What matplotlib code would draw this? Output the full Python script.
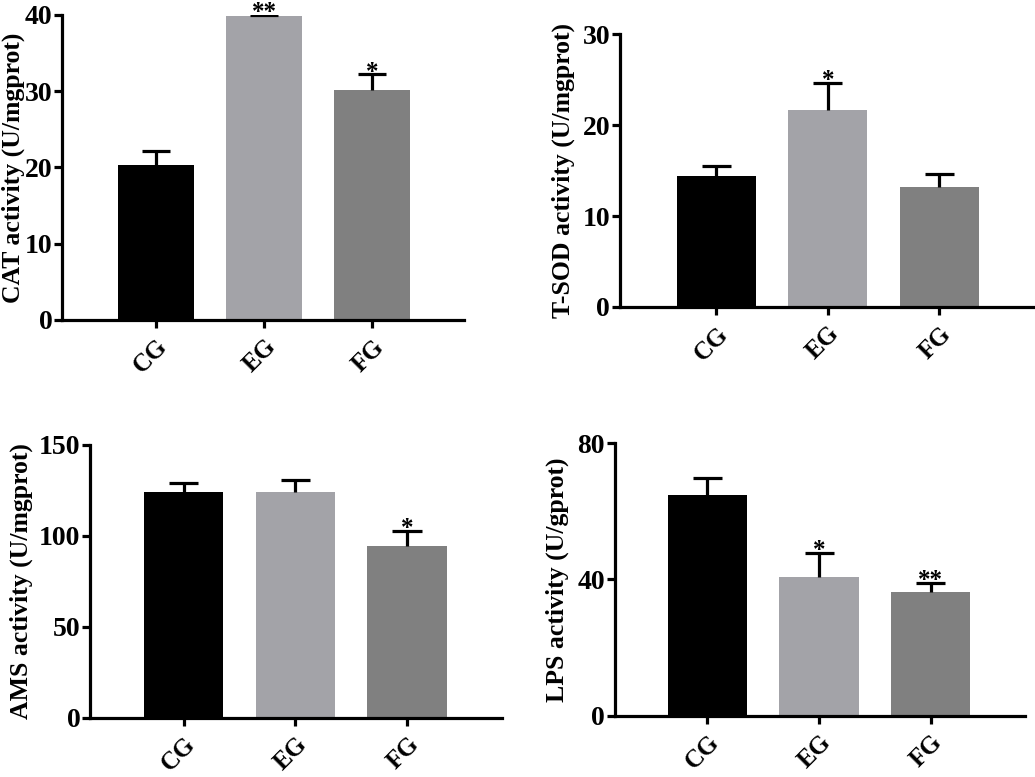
import numpy as np
import matplotlib
matplotlib.use("Agg")
import matplotlib.pyplot as plt

plt.rcParams['font.family'] = ['Liberation Serif', 'DejaVu Serif']
plt.rcParams['font.weight'] = 'bold'

groups = ["CG", "EG", "FG"]
bar_colors = ["#000000", "#a3a3a8", "#808080"]

cat_mean = [20.3, 39.9, 30.2]
cat_err = [1.9, 0.1, 2.0]
cat_sig = ["", "**", "*"]

sod_mean = [14.4, 21.6, 13.2]
sod_err = [1.1, 3.0, 1.4]
sod_sig = ["", "*", ""]

ams_mean = [124.3, 124.3, 94.4]
ams_err = [4.6, 6.4, 8.3]
ams_sig = ["", "", "*"]

lps_mean = [64.8, 40.7, 36.2]
lps_err = [5.1, 7.0, 2.9]
lps_sig = ["", "*", "**"]

# data, ylabel, yticks, axes rect, xlim, ylabel x (axes coords)
panels = [
    (cat_mean, cat_err, cat_sig, "CAT activity (U/mgprot)", [0, 10, 20, 30, 40],
     [0.0599, 0.5882, 0.3884, 0.3925], (-0.87, 2.85), -0.092),
    (sod_mean, sod_err, sod_sig, "T-SOD activity (U/mgprot)", [0, 10, 20, 30],
     [0.599, 0.6049, 0.399, 0.3513], (-0.865, 2.84), -0.109),
    (ams_mean, ams_err, ams_sig, "AMS activity (U/mgprot)", [0, 50, 100, 150],
     [0.087, 0.0763, 0.398, 0.351], (-0.837, 2.85), -0.138),
    (lps_mean, lps_err, lps_sig, "LPS activity (U/gprot)", [0, 40, 80],
     [0.594, 0.0789, 0.396, 0.3506], (-0.828, 2.84), -0.112),
]

fig = plt.figure(figsize=(10.35, 7.77), dpi=100)

for mean, err, sig, ylabel, yticks, rect, xlim, labx in panels:
    ax = fig.add_axes(rect)
    x = np.arange(len(groups))
    mean = np.array(mean)
    err = np.array(err)
    ax.bar(x, mean, width=0.71, color=bar_colors, zorder=2)
    # GraphPad style: upper error bar only
    ax.vlines(x, mean, mean + err, color='black', lw=2.3, zorder=3)
    ax.hlines(mean + err, x - 0.13, x + 0.13, color='black', lw=2.3, zorder=3)
    for xi, top_val, s in zip(x, mean + err, sig):
        if s:
            ax.annotate(s, (xi, top_val), xytext=(0, -3), textcoords='offset points',
                        ha='center', va='baseline', fontsize=18, fontweight='bold',
                        annotation_clip=False)
    ax.set_ylim(0, max(yticks))
    ax.set_xlim(*xlim)
    ax.set_yticks(yticks)
    ax.set_xticks(x)
    ax.set_xticklabels(groups, rotation=45, ha='right', rotation_mode='anchor',
                       fontsize=18)
    ax.set_ylabel(ylabel, fontsize=18.5, fontweight='bold')
    ax.yaxis.set_label_coords(labx, 0.5)
    for side in ['top', 'right']:
        ax.spines[side].set_visible(False)
    for side in ['left', 'bottom']:
        ax.spines[side].set_linewidth(2.3)
    ax.tick_params(axis='both', width=2.3, length=6)
    ax.tick_params(axis='y', labelsize=20, pad=1)
    ax.tick_params(axis='x', pad=5)
    for lab in ax.get_xticklabels() + ax.get_yticklabels():
        lab.set_fontweight('bold')

fig.savefig("out.png", dpi=100)
